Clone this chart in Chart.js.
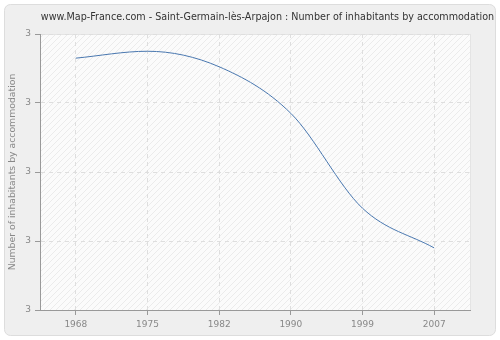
<!DOCTYPE html>
<html>
<head>
<meta charset="utf-8">
<script src="https://cdn.jsdelivr.net/npm/chart.js@4/dist/chart.umd.min.js"></script>
<style>
  html, body { margin: 0; padding: 0; background: #fff; }
  #wrap { width: 500px; height: 340px; }
</style>
</head>
<body>
<div id="wrap"><canvas id="chart" width="500" height="340"></canvas></div>
<script>
const years = ["1968", "1975", "1982", "1990", "1999", "2007"];
const inhabitants = [3.33, 3.35, 3.305, 3.17, 2.895, 2.78];
const yMin = 2.6;
const yMax = 3.4;
const yStep = 0.2;
const titleText = "www.Map-France.com - Saint-Germain-lès-Arpajon : Number of inhabitants by accommodation";

// hatch pattern for the plot area
const pat = document.createElement("canvas");
pat.width = 6; pat.height = 6;
const pc = pat.getContext("2d");
pc.fillStyle = "#fbfbfb";
pc.fillRect(0, 0, 6, 6);
pc.strokeStyle = "#ebebeb";
pc.lineWidth = 1;
pc.beginPath();
pc.moveTo(0, 6); pc.lineTo(6, 0);
pc.moveTo(-1, 1); pc.lineTo(1, -1);
pc.moveTo(5, 7); pc.lineTo(7, 5);
pc.stroke();

const backdrop = {
    id: "backdrop",
    beforeDraw(chart) {
        const ctx = chart.ctx;
        const a = chart.chartArea;
        ctx.save();
        ctx.fillStyle = "#ffffff";
        ctx.fillRect(0, 0, chart.width, chart.height);
        // outer panel
        ctx.fillStyle = "#efefef";
        ctx.strokeStyle = "#dddddd";
        ctx.beginPath();
        ctx.roundRect(4.5, 4.5, 491, 331, 6);
        ctx.fill();
        ctx.stroke();
        // plot area
        ctx.fillStyle = ctx.createPattern(pat, "repeat");
        ctx.fillRect(a.left, a.top, a.right - a.left, a.bottom - a.top);
        ctx.strokeStyle = "#e4e4e4";
        ctx.strokeRect(a.left + 0.5, a.top + 0.5, a.right - a.left, a.bottom - a.top);
        // title
        ctx.fillStyle = "#333333";
        ctx.font = "9.6px 'DejaVu Sans'";
        ctx.textAlign = "center";
        ctx.textBaseline = "middle";
        ctx.fillText(titleText, 267.5, 17);
        ctx.restore();
    }
};

new Chart(document.getElementById("chart"), {
    type: "line",
    data: {
        labels: years,
        datasets: [{
            data: inhabitants,
            borderColor: "#4a78b0",
            borderWidth: 1,
            pointRadius: 0,
            fill: false,
            cubicInterpolationMode: "monotone"
        }]
    },
    options: {
        responsive: false,
        animation: false,
        layout: { padding: { left: 7, right: 30, top: 34, bottom: 0 } },
        plugins: {
            legend: { display: false },
            tooltip: { enabled: false }
        },
        scales: {
            x: {
                offset: true,
                grid: {
                    color: "#dedede",
                    tickColor: "#999999",
                    tickBorderDash: [1, 0],
                    tickLength: 5,
                    offset: false
                },
                border: { color: "#999999", dash: [4, 4] },
                ticks: {
                    color: "#888888",
                    font: { family: "DejaVu Sans", size: 9 },
                    padding: 4
                },
                afterFit(scale) { scale.height = 30; }
            },
            y: {
                min: yMin,
                max: yMax,
                grid: {
                    color: "#dedede",
                    tickColor: "#999999",
                    tickBorderDash: [1, 0],
                    tickLength: 5
                },
                border: { color: "#999999", dash: [4, 4] },
                ticks: {
                    stepSize: yStep,
                    color: "#888888",
                    font: { family: "DejaVu Sans", size: 9 },
                    padding: 4,
                    callback: v => Math.round(v)
                },
                title: {
                    display: true,
                    text: "Number of inhabitants by accommodation",
                    color: "#888888",
                    font: { family: "DejaVu Sans", size: 9.3 },
                    padding: { top: 0, bottom: 0 }
                },
                afterFit(scale) { scale.width = 33; }
            }
        }
    },
    plugins: [backdrop]
});
</script>
</body>
</html>
